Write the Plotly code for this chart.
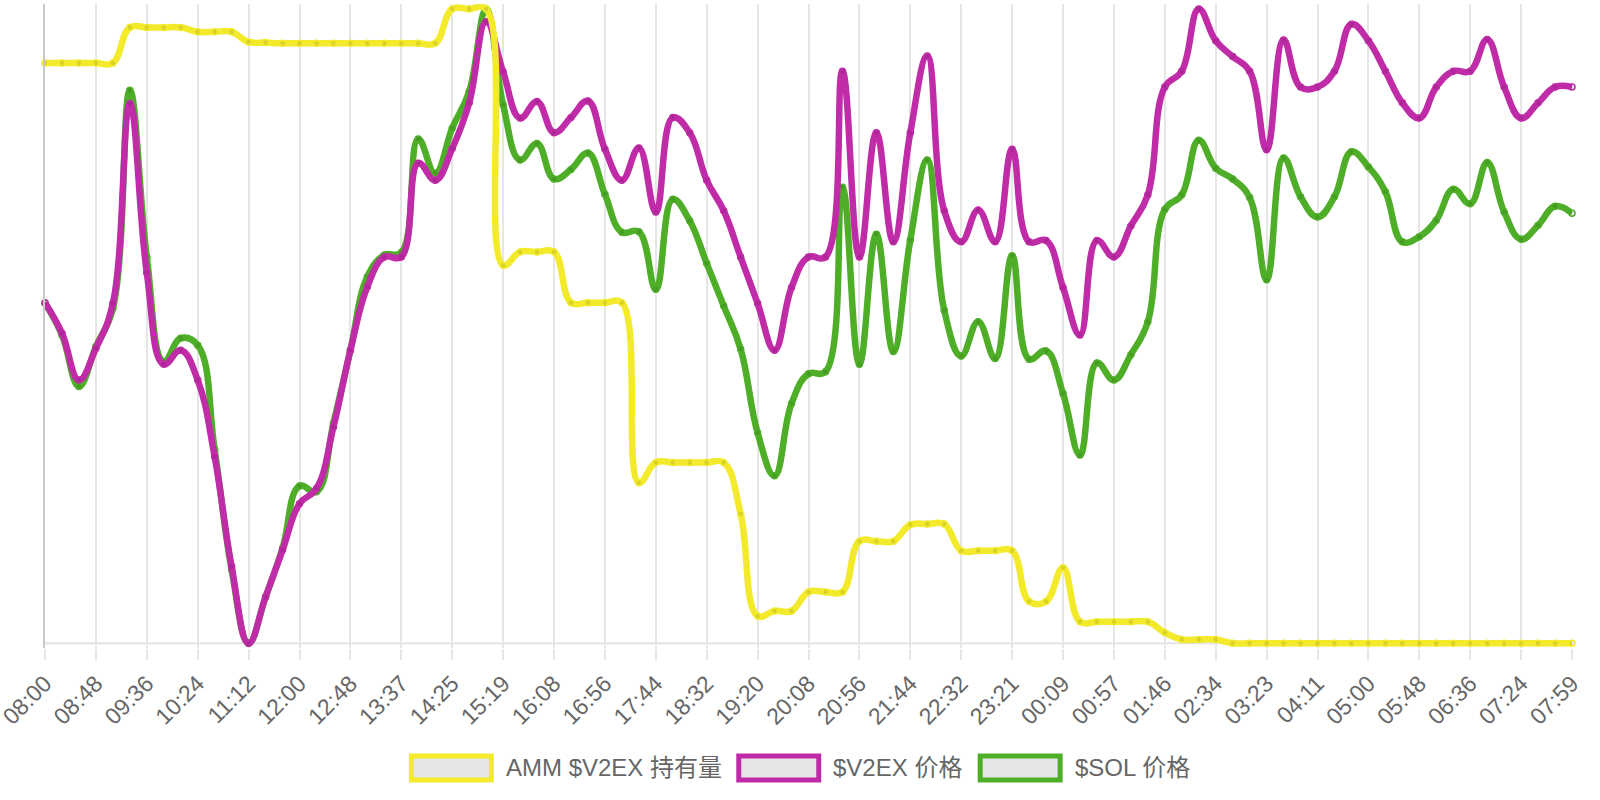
import plotly.graph_objects as go

# ---------------- data (y axis is hidden in the source; values are relative, 0-100 of each series' own range)
tick_labels = ["08:00", "08:48", "09:36", "10:24", "11:12", "12:00", "12:48", "13:37", "14:25", "15:19",
               "16:08", "16:56", "17:44", "18:32", "19:20", "20:08", "20:56", "21:44", "22:32", "23:21",
               "00:09", "00:57", "01:46", "02:34", "03:23", "04:11", "05:00", "05:48", "06:36", "07:24",
               "07:59"]
n_points = 91
label_step = 3

amm_holding = [91.5, 91.5, 91.5, 91.5, 91.5, 97.1, 97.1, 97.1, 97.1, 96.4,
               96.4, 96.4, 94.8, 94.7, 94.6, 94.6, 94.6, 94.6, 94.6, 94.6,
               94.6, 94.6, 94.6, 94.6, 100.0, 100.0, 100.0, 59.6, 61.7, 61.7,
               61.7, 53.7, 53.7, 53.7, 53.7, 25.3, 28.5, 28.5, 28.5, 28.5,
               28.5, 20.4, 4.3, 5.1, 5.1, 8.1, 8.1, 8.1, 16.1, 16.1,
               16.1, 18.7, 18.8, 18.8, 14.6, 14.6, 14.6, 14.6, 6.6, 6.6,
               11.9, 3.4, 3.4, 3.4, 3.4, 3.4, 1.7, 0.6, 0.6, 0.6,
               0, 0, 0, 0, 0, 0, 0, 0, 0, 0,
               0, 0, 0, 0, 0, 0, 0, 0, 0, 0,
               0]

v2ex_price = [53.7, 48.9, 41.5, 46.5, 53.6, 85.1, 58.4, 44.0, 46.2, 41.5,
              29.4, 12.1, 0.0, 7.3, 14.7, 22.0, 24.4, 34.1, 46.2, 56.2,
              60.9, 60.9, 75.7, 73.0, 78.0, 85.2, 98.0, 90.1, 82.8, 85.4,
              80.5, 82.9, 85.5, 77.9, 73.0, 78.1, 68.0, 82.9, 80.5, 73.0,
              68.2, 60.9, 53.6, 46.2, 56.1, 60.9, 60.9, 90.2, 60.9, 80.5,
              63.3, 80.5, 92.6, 68.2, 63.3, 68.3, 63.3, 77.9, 63.3, 63.5,
              56.1, 48.6, 63.5, 60.9, 65.8, 70.7, 87.7, 90.2, 100.0, 95.0,
              92.5, 90.2, 77.8, 95.1, 87.7, 87.7, 90.2, 97.6, 95.0, 90.2,
              85.2, 82.8, 87.7, 90.2, 90.2, 95.2, 87.7, 82.8, 85.2, 87.7,
              87.7]

sol_price = [53.6, 48.6, 40.5, 46.8, 52.8, 87.2, 60.9, 44.4, 48.1, 47.0,
             30.5, 11.6, 0.0, 7.3, 15.0, 24.8, 23.9, 34.7, 46.2, 57.8,
             61.2, 61.6, 79.5, 74.1, 81.2, 87.0, 100.0, 84.9, 76.2, 78.8,
             73.2, 74.7, 77.3, 70.8, 64.8, 64.9, 55.8, 70.0, 66.6, 59.9,
             53.2, 46.4, 33.2, 26.4, 37.8, 42.5, 42.8, 71.9, 44.0, 64.5,
             46.0, 63.6, 76.2, 52.5, 45.3, 50.7, 44.9, 61.1, 44.8, 46.1,
             39.4, 29.7, 44.2, 41.5, 45.5, 50.7, 68.4, 70.7, 79.3, 74.9,
             73.2, 70.3, 57.3, 76.5, 70.4, 67.2, 70.4, 77.5, 75.1, 71.2,
             63.3, 64.1, 66.7, 71.6, 69.3, 75.8, 68.0, 63.7, 65.9, 68.9,
             67.8]

series_names = ["AMM $V2EX 持有量", "$V2EX 价格", "$SOL 价格"]
series_colors = ["#F2EA2B", "#C02BA8", "#4EAE28"]

# ---------------- figure
W, H = 1600, 800
ML, MR, MT, MB = 45, 27.5, 4, 152
plot_w = W - ML - MR
plot_h = H - MT - MB

FONT = "Liberation Sans, Arial, Helvetica, 'Noto Sans CJK SC', sans-serif"

x_idx = list(range(n_points))
fig = go.Figure()

all_series = [amm_holding, v2ex_price, sol_price]
# Chart.js draws the first dataset on top -> add in reverse order
for k in [2, 1, 0]:
    fig.add_trace(go.Scatter(
        x=x_idx, y=all_series[k], name=series_names[k],
        mode="lines+markers",
        line=dict(color=series_colors[k], width=6.5, shape="spline", smoothing=1.2),
        marker=dict(size=6, color="rgba(0,0,0,0.1)",
                    line=dict(color=series_colors[k], width=1.5)),
        cliponaxis=False,
        showlegend=False,
        hoverinfo="skip",
    ))

# bottom border line of the chart area (at the data minimum)
fig.add_shape(type="line", xref="paper", yref="y", x0=0, x1=1, y0=0, y1=0,
              line=dict(color="#e3e3e3", width=2), layer="below")


def px_x(px):
    return (px - ML) / plot_w


def px_y(py):
    return (H - MB - py) / plot_h


# custom legend (Chart.js style boxes)
legend_boxes = [(411.5, 504.0), (739.0, 831.5), (980.5, 1073.0)]
for k, (bx, tx) in enumerate(legend_boxes):
    fig.add_shape(type="rect", xref="paper", yref="paper",
                  x0=px_x(bx), x1=px_x(bx + 80), y0=px_y(780), y1=px_y(756),
                  fillcolor="#e6e6e6", line=dict(color=series_colors[k], width=5))
    fig.add_annotation(xref="paper", yref="paper", x=px_x(tx), y=px_y(768),
                       xanchor="left", yanchor="middle", showarrow=False,
                       text=series_names[k],
                       font=dict(family=FONT, size=24, color="#666666"))

fig.update_layout(
    width=W, height=H,
    margin=dict(l=ML, r=MR, t=MT, b=MB, pad=0),
    paper_bgcolor="white", plot_bgcolor="white",
    showlegend=False,
    font=dict(family=FONT, color="#666666"),
    xaxis=dict(
        range=[0, n_points - 1],
        tickvals=list(range(0, n_points, label_step)),
        ticktext=tick_labels,
        tickangle=-45,
        tickfont=dict(family=FONT, size=23, color="#666666"),
        ticklabelstandoff=1,
        ticklabeloverflow="allow",
        showgrid=True, gridcolor="#e6e6e6", gridwidth=2,
        ticks="outside", ticklen=11, tickwidth=2, tickcolor="#e6e6e6",
        showline=False, zeroline=False, automargin=False,
        fixedrange=True,
    ),
    yaxis=dict(
        range=[-0.741, 100.788],
        showticklabels=False, showgrid=False, zeroline=False,
        showline=True, linecolor="#c8c8c8", linewidth=2,
        automargin=False, fixedrange=True,
    ),
)

fig.write_html("out.html")
